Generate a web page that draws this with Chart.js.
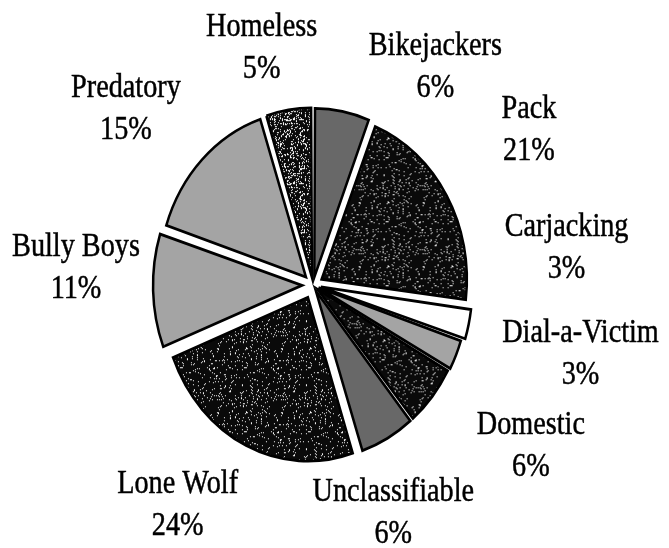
<!DOCTYPE html>
<html>
<head>
<meta charset="utf-8">
<script src="https://cdn.jsdelivr.net/npm/chart.js@4"></script>
<style>
    html, body { margin: 0; padding: 0; background: #fff; }
</style>
</head>
<body>
<canvas id="pie" width="669" height="548"></canvas>
<script>
// Slices, clockwise from 12 o'clock
const categories = ['Bikejackers', 'Pack', 'Carjacking', 'Dial-a-Victim', 'Domestic',
                    'Unclassifiable', 'Lone Wolf', 'Bully Boys', 'Predatory', 'Homeless'];
const shares = [6, 21, 3, 3, 6, 6, 24, 11, 15, 5];

// Look of each slice and how far it is pulled out (px)
const fills = ['medium', 'dark', 'white', 'light', 'dark', 'medium', 'dark', 'light', 'light', 'speckle'];
const explode = [7, 10, 8, 6, 6, 6, 12, 11, 10, 7];

// Label placement: shift from slice middle (deg) and distance from centre (px)
const labelShift = [18, -6, -22, -10, -4, 9, 7, 7, -1, -3];
const labelDist = [254, 269, 257, 275, 268, 237, 254, 238, 260, 247];

const stretchY = 1.13;     // the scanned pie is taller than wide
const textSqueeze = 0.83;  // and the type is a bit condensed
const lineGap = 42;
const textDrop = 5;

// deterministic grain for the speckled fills
function grain(x, y) {
    const s = Math.sin(x * 127.1 + y * 311.7) * 43758.5453;
    return s - Math.floor(s);
}

function makeSpeckle(density) {
    const n = 64;
    const c = document.createElement('canvas');
    c.width = n;
    c.height = n;
    const g = c.getContext('2d');
    g.fillStyle = '#fff';
    g.fillRect(0, 0, n, n);
    g.fillStyle = '#0a0a0a';
    for (let y = 0; y < n; y++) {
        for (let x = 0; x < n; x++) {
            if (grain(x, y) > density) g.fillRect(x, y, 1, 1);
        }
    }
    const p = g.createPattern(c, 'repeat');
    p.setTransform(new DOMMatrix().scale(1, 1 / stretchY));
    return p;
}

const swatches = {
    light: '#a4a4a4',
    medium: '#686868',
    dark: makeSpeckle(0.07),
    speckle: makeSpeckle(0.2),
    white: '#ffffff',
};

const squash = {
    id: 'squash',
    beforeDatasetsDraw(chart) {
        const arc = chart.getDatasetMeta(0).data[0];
        const ctx = chart.ctx;
        ctx.save();
        ctx.translate(arc.x, arc.y);
        ctx.scale(1, stretchY);
        ctx.translate(-arc.x, -arc.y);
    },
    afterDatasetsDraw(chart) {
        chart.ctx.restore();
    },
};

const sliceLabels = {
    id: 'sliceLabels',
    afterDraw(chart) {
        const ctx = chart.ctx;
        const arcs = chart.getDatasetMeta(0).data;
        ctx.save();
        ctx.fillStyle = '#000';
        ctx.strokeStyle = '#000';
        ctx.lineWidth = 0.5;
        ctx.font = '34px "Liberation Serif"';
        ctx.textAlign = 'center';
        ctx.textBaseline = 'middle';
        arcs.forEach((arc, i) => {
            const a = (arc.startAngle + arc.endAngle) / 2 + labelShift[i] * Math.PI / 180;
            const x = arc.x + Math.cos(a) * labelDist[i];
            const y = arc.y + Math.sin(a) * labelDist[i] + textDrop;
            [categories[i], shares[i] + '%'].forEach((t, k) => {
                ctx.save();
                ctx.translate(x, y + (k - 0.5) * lineGap);
                ctx.scale(textSqueeze, 1);
                ctx.fillText(t, 0, 0);
                ctx.strokeText(t, 0, 0);
                ctx.restore();
            });
        });
        ctx.restore();
    },
};

new Chart(document.getElementById('pie'), {
    type: 'pie',
    data: {
        labels: categories,
        datasets: [{
            data: shares,
            backgroundColor: fills.map((f) => swatches[f]),
            borderColor: '#000',
            borderWidth: 2.5,
            borderJoinStyle: 'miter',
            offset: explode.map((e) => e * 4),
        }],
    },
    options: {
        responsive: false,
        animation: false,
        radius: 145,
        layout: { padding: { left: 0, right: 43, top: 22, bottom: 0 } },
        plugins: {
            legend: { display: false },
            tooltip: { enabled: false },
        },
    },
    plugins: [squash, sliceLabels],
});
</script>
</body>
</html>
